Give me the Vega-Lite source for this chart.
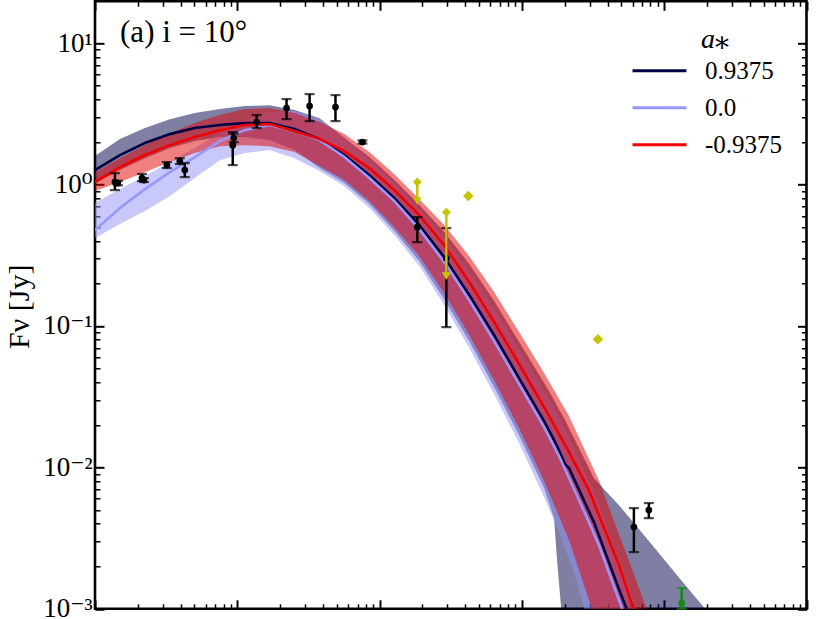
{
  "$schema": "https://vega.github.io/schema/vega-lite/v6.json",
  "width": 711.5,
  "height": 607.5,
  "autosize": {"type": "none"},
  "padding": {"left": 95, "top": 1.3, "right": 24.5, "bottom": 10.2},
  "config": {
    "view": {"stroke": "black", "strokeWidth": 2.6},
    "font": "Liberation Serif, Times New Roman, DejaVu Serif, serif",
    "axis": {
      "domain": false,
      "grid": false,
      "tickColor": "black",
      "labelColor": "black",
      "labelFont": "Liberation Serif, Times New Roman, DejaVu Serif, serif",
      "labelFontSize": 27,
      "labelOverlap": false,
      "labelFlush": false,
      "titleFont": "Liberation Serif, Times New Roman, DejaVu Serif, serif",
      "titleColor": "black",
      "titleFontWeight": "normal"
    }
  },
  "datasets": {
    "model": [
      {"spin": "0.9375", "nu": 10.000, "hi": 0.202, "f": 0.103, "lo": 0.011},
      {"spin": "0.9375", "nu": 10.175, "hi": 0.322, "f": 0.209, "lo": 0.103},
      {"spin": "0.9375", "nu": 10.351, "hi": 0.400, "f": 0.294, "lo": 0.187},
      {"spin": "0.9375", "nu": 10.526, "hi": 0.463, "f": 0.357, "lo": 0.258},
      {"spin": "0.9375", "nu": 10.701, "hi": 0.506, "f": 0.400, "lo": 0.308},
      {"spin": "0.9375", "nu": 10.877, "hi": 0.534, "f": 0.421, "lo": 0.336},
      {"spin": "0.9375", "nu": 11.052, "hi": 0.555, "f": 0.435, "lo": 0.336},
      {"spin": "0.9375", "nu": 11.227, "hi": 0.562, "f": 0.435, "lo": 0.315},
      {"spin": "0.9375", "nu": 11.403, "hi": 0.527, "f": 0.393, "lo": 0.244},
      {"spin": "0.9375", "nu": 11.578, "hi": 0.470, "f": 0.322, "lo": 0.117},
      {"spin": "0.9375", "nu": 11.753, "hi": 0.329, "f": 0.209, "lo": 0.011},
      {"spin": "0.9375", "nu": 11.928, "hi": 0.195, "f": 0.067, "lo": -0.138},
      {"spin": "0.9375", "nu": 12.104, "hi": 0.032, "f": -0.096, "lo": -0.329},
      {"spin": "0.9375", "nu": 12.279, "hi": -0.145, "f": -0.286, "lo": -0.541},
      {"spin": "0.9375", "nu": 12.454, "hi": -0.336, "f": -0.513, "lo": -0.810},
      {"spin": "0.9375", "nu": 12.630, "hi": -0.562, "f": -0.781, "lo": -1.107},
      {"spin": "0.9375", "nu": 12.805, "hi": -0.824, "f": -1.064, "lo": -1.432},
      {"spin": "0.9375", "nu": 12.980, "hi": -1.114, "f": -1.368, "lo": -1.772},
      {"spin": "0.9375", "nu": 13.156, "hi": -1.404, "f": -1.673, "lo": -2.146},
      {"spin": "0.9375", "nu": 13.226, "hi": -1.524, "f": -1.807, "lo": -2.359},
      {"spin": "0.9375", "nu": 13.247, "hi": -1.566, "f": -1.849, "lo": -2.656},
      {"spin": "0.9375", "nu": 13.275, "hi": -1.616, "f": -1.913, "lo": -2.988},
      {"spin": "0.9375", "nu": 13.303, "hi": -1.665, "f": -1.977, "lo": -3.646},
      {"spin": "0.9375", "nu": 13.331, "hi": -1.722, "f": -2.005, "lo": -4.353},
      {"spin": "0.9375", "nu": 13.506, "hi": -2.076, "f": -2.387, "lo": -4.353},
      {"spin": "0.9375", "nu": 13.682, "hi": -2.267, "f": -2.861, "lo": -4.353},
      {"spin": "0.9375", "nu": 13.822, "hi": -2.436, "f": -3.221, "lo": -4.353},
      {"spin": "0.9375", "nu": 13.962, "hi": -2.606, "f": null, "lo": -4.353},
      {"spin": "0.9375", "nu": 14.102, "hi": -2.776, "f": null, "lo": -4.353},
      {"spin": "0.9375", "nu": 14.243, "hi": -2.946, "f": null, "lo": -4.353},
      {"spin": "0.9375", "nu": 14.383, "hi": -3.115, "f": null, "lo": -4.353},
      {"spin": "0.0", "nu": 10.000, "hi": -0.131, "f": -0.322, "lo": -0.378},
      {"spin": "0.0", "nu": 10.175, "hi": -0.032, "f": -0.166, "lo": -0.279},
      {"spin": "0.0", "nu": 10.351, "hi": 0.060, "f": -0.032, "lo": -0.187},
      {"spin": "0.0", "nu": 10.526, "hi": 0.159, "f": 0.088, "lo": -0.081},
      {"spin": "0.0", "nu": 10.701, "hi": 0.258, "f": 0.195, "lo": 0.046},
      {"spin": "0.0", "nu": 10.877, "hi": 0.364, "f": 0.308, "lo": 0.173},
      {"spin": "0.0", "nu": 11.052, "hi": 0.456, "f": 0.385, "lo": 0.223},
      {"spin": "0.0", "nu": 11.227, "hi": 0.513, "f": 0.421, "lo": 0.244},
      {"spin": "0.0", "nu": 11.403, "hi": 0.520, "f": 0.378, "lo": 0.187},
      {"spin": "0.0", "nu": 11.578, "hi": 0.463, "f": 0.315, "lo": 0.096},
      {"spin": "0.0", "nu": 11.753, "hi": 0.322, "f": 0.195, "lo": -0.011},
      {"spin": "0.0", "nu": 11.928, "hi": 0.180, "f": 0.046, "lo": -0.166},
      {"spin": "0.0", "nu": 12.104, "hi": 0.011, "f": -0.117, "lo": -0.357},
      {"spin": "0.0", "nu": 12.279, "hi": -0.173, "f": -0.315, "lo": -0.576},
      {"spin": "0.0", "nu": 12.454, "hi": -0.371, "f": -0.548, "lo": -0.852},
      {"spin": "0.0", "nu": 12.630, "hi": -0.605, "f": -0.817, "lo": -1.156},
      {"spin": "0.0", "nu": 12.805, "hi": -0.873, "f": -1.107, "lo": -1.482},
      {"spin": "0.0", "nu": 12.980, "hi": -1.156, "f": -1.411, "lo": -1.828},
      {"spin": "0.0", "nu": 13.156, "hi": -1.453, "f": -1.715, "lo": -2.210},
      {"spin": "0.0", "nu": 13.261, "hi": -1.637, "f": -1.920, "lo": -2.458},
      {"spin": "0.0", "nu": 13.366, "hi": -1.864, "f": -2.153, "lo": -2.740},
      {"spin": "0.0", "nu": 13.471, "hi": -2.090, "f": -2.387, "lo": -3.115},
      {"spin": "0.0", "nu": 13.541, "hi": -2.260, "f": -2.549, "lo": -3.363},
      {"spin": "0.0", "nu": 13.682, "hi": -2.663, "f": -2.938, "lo": -3.858},
      {"spin": "0.0", "nu": 13.787, "hi": -2.946, "f": -3.221, "lo": -4.211},
      {"spin": "0.0", "nu": 13.857, "hi": -3.151, "f": -3.433, "lo": -4.494},
      {"spin": "-0.9375", "nu": 10.000, "hi": 0.088, "f": 0.018, "lo": -0.046},
      {"spin": "-0.9375", "nu": 10.175, "hi": 0.187, "f": 0.124, "lo": 0.018},
      {"spin": "-0.9375", "nu": 10.351, "hi": 0.279, "f": 0.209, "lo": 0.088},
      {"spin": "-0.9375", "nu": 10.526, "hi": 0.364, "f": 0.279, "lo": 0.159},
      {"spin": "-0.9375", "nu": 10.701, "hi": 0.435, "f": 0.336, "lo": 0.223},
      {"spin": "-0.9375", "nu": 10.877, "hi": 0.492, "f": 0.385, "lo": 0.272},
      {"spin": "-0.9375", "nu": 11.052, "hi": 0.534, "f": 0.421, "lo": 0.279},
      {"spin": "-0.9375", "nu": 11.227, "hi": 0.541, "f": 0.428, "lo": 0.272},
      {"spin": "-0.9375", "nu": 11.403, "hi": 0.506, "f": 0.378, "lo": 0.230},
      {"spin": "-0.9375", "nu": 11.578, "hi": 0.442, "f": 0.322, "lo": 0.131},
      {"spin": "-0.9375", "nu": 11.753, "hi": 0.357, "f": 0.237, "lo": 0.032},
      {"spin": "-0.9375", "nu": 11.928, "hi": 0.230, "f": 0.117, "lo": -0.117},
      {"spin": "-0.9375", "nu": 12.104, "hi": 0.074, "f": -0.039, "lo": -0.301},
      {"spin": "-0.9375", "nu": 12.279, "hi": -0.103, "f": -0.216, "lo": -0.506},
      {"spin": "-0.9375", "nu": 12.454, "hi": -0.286, "f": -0.428, "lo": -0.767},
      {"spin": "-0.9375", "nu": 12.630, "hi": -0.506, "f": -0.690, "lo": -1.064},
      {"spin": "-0.9375", "nu": 12.805, "hi": -0.760, "f": -0.972, "lo": -1.383},
      {"spin": "-0.9375", "nu": 12.980, "hi": -1.043, "f": -1.269, "lo": -1.722},
      {"spin": "-0.9375", "nu": 13.156, "hi": -1.333, "f": -1.574, "lo": -2.097},
      {"spin": "-0.9375", "nu": 13.331, "hi": -1.637, "f": -1.892, "lo": -2.514},
      {"spin": "-0.9375", "nu": 13.471, "hi": -1.941, "f": -2.161, "lo": -2.938},
      {"spin": "-0.9375", "nu": 13.541, "hi": -2.090, "f": -2.337, "lo": -3.172},
      {"spin": "-0.9375", "nu": 13.682, "hi": -2.472, "f": -2.691, "lo": -3.646},
      {"spin": "-0.9375", "nu": 13.787, "hi": -2.755, "f": -3.009, "lo": -4.070},
      {"spin": "-0.9375", "nu": 13.871, "hi": -2.988, "f": -3.257, "lo": -4.353},
      {"spin": "-0.9375", "nu": 13.962, "hi": -3.257, "f": -3.575, "lo": -4.706}
    ],
    "obs": [
      {"nu": 10.140, "f": 0.018, "lo": -0.039, "hi": 0.081},
      {"nu": 10.161, "f": 0.011, "lo": -0.005, "hi": 0.027},
      {"nu": 10.330, "f": 0.046, "lo": 0.025, "hi": 0.075},
      {"nu": 10.344, "f": 0.032, "lo": 0.018, "hi": 0.046},
      {"nu": 10.505, "f": 0.138, "lo": 0.117, "hi": 0.159},
      {"nu": 10.596, "f": 0.166, "lo": 0.145, "hi": 0.187},
      {"nu": 10.631, "f": 0.103, "lo": 0.053, "hi": 0.152},
      {"nu": 10.968, "f": 0.279, "lo": 0.138, "hi": 0.371},
      {"nu": 10.975, "f": 0.329, "lo": 0.300, "hi": 0.360},
      {"nu": 11.136, "f": 0.442, "lo": 0.400, "hi": 0.492},
      {"nu": 11.346, "f": 0.541, "lo": 0.463, "hi": 0.605},
      {"nu": 11.508, "f": 0.555, "lo": 0.449, "hi": 0.640},
      {"nu": 11.690, "f": 0.548, "lo": 0.449, "hi": 0.633},
      {"nu": 11.879, "f": 0.301, "lo": 0.290, "hi": 0.312},
      {"nu": 12.265, "f": -0.301, "lo": -0.407, "hi": -0.230},
      {"nu": 12.469, "f": -0.520, "lo": -1.008, "hi": -0.308},
      {"nu": 13.787, "f": -2.422, "lo": -2.599, "hi": -2.288},
      {"nu": 13.892, "f": -2.302, "lo": -2.359, "hi": -2.252}
    ],
    "green": [
      {"nu": 14.123, "f": -2.960, "lo": -3.0, "hi": -2.854}
    ],
    "ul": [
      {"nu": 12.265, "top": 0.018, "bottom": -0.117},
      {"nu": 12.469, "top": -0.195, "bottom": -0.647}
    ],
    "ypt": [
      {"nu": 12.623, "f": -0.081},
      {"nu": 13.534, "f": -1.093}
    ]
  },
  "layer": [
    {
      "data": {"name": "model"},
      "transform": [{"filter": "datum.spin === '0.9375'"}],
      "mark": {"type": "area", "color": "#000047", "opacity": 0.5, "clip": true},
      "encoding": {
        "x": {"field": "nu", "type": "quantitative", "scale": {"domain": [10, 15], "nice": false, "zero": false}, "axis": null},
        "y": {"field": "lo", "type": "quantitative", "scale": {"domain": [-3, 1.2963], "nice": false, "zero": false}, "axis": null},
        "y2": {"field": "hi"}
      }
    },
    {
      "data": {"name": "model"},
      "transform": [{"filter": "datum.spin === '0.0'"}],
      "mark": {"type": "area", "color": "#9191f5", "opacity": 0.5, "clip": true},
      "encoding": {
        "x": {"field": "nu", "type": "quantitative", "scale": {"domain": [10, 15], "nice": false, "zero": false}, "axis": null},
        "y": {"field": "lo", "type": "quantitative", "scale": {"domain": [-3, 1.2963], "nice": false, "zero": false}, "axis": null},
        "y2": {"field": "hi"}
      }
    },
    {
      "data": {"name": "model"},
      "transform": [{"filter": "datum.spin === '-0.9375'"}],
      "mark": {"type": "area", "color": "#e10000", "opacity": 0.5, "clip": true},
      "encoding": {
        "x": {"field": "nu", "type": "quantitative", "scale": {"domain": [10, 15], "nice": false, "zero": false}, "axis": null},
        "y": {"field": "lo", "type": "quantitative", "scale": {"domain": [-3, 1.2963], "nice": false, "zero": false}, "axis": null},
        "y2": {"field": "hi"}
      }
    },
    {
      "data": {"name": "model"},
      "mark": {"type": "line", "strokeWidth": 2.6, "clip": true},
      "encoding": {
        "x": {"field": "nu", "type": "quantitative", "scale": {"domain": [10, 15], "nice": false, "zero": false}, "axis": null},
        "y": {"field": "f", "type": "quantitative", "scale": {"domain": [-3, 1.2963], "nice": false, "zero": false}, "axis": null},
        "stroke": {
          "field": "spin",
          "type": "nominal",
          "scale": {"domain": ["0.9375", "0.0", "-0.9375"], "range": ["#000047", "#9898fa", "#f20000"]},
          "legend": {
            "orient": "none",
            "legendX": 552,
            "legendY": 25,
            "padding": 0,
            "title": "a⁎",
            "titleFont": "Liberation Serif, Times New Roman, DejaVu Serif, serif",
            "titleFontStyle": "italic",
            "titleFontWeight": "normal",
            "titleFontSize": 28,
            "titleColor": "black",
            "titleAnchor": "middle",
            "titlePadding": 4,
            "labelFont": "Liberation Serif, Times New Roman, DejaVu Serif, serif",
            "labelFontSize": 25,
            "labelColor": "black",
            "labelOffset": 33,
            "rowPadding": 11,
            "symbolType": "M-3,0H3",
            "symbolSize": 324,
            "symbolStrokeWidth": 3
          }
        }
      }
    },
    {
      "data": {"name": "obs"},
      "mark": {"type": "errorbar", "color": "black", "ticks": {"size": 10, "thickness": 2.2}, "rule": {"strokeWidth": 2.5}},
      "encoding": {
        "x": {"field": "nu", "type": "quantitative", "scale": {"domain": [10, 15], "nice": false, "zero": false}, "axis": null},
        "y": {"field": "lo", "type": "quantitative", "scale": {"domain": [-3, 1.2963], "nice": false, "zero": false}, "axis": null},
        "y2": {"field": "hi"}
      }
    },
    {
      "data": {"name": "obs"},
      "mark": {"type": "point", "shape": "circle", "filled": true, "size": 45, "color": "black", "opacity": 1},
      "encoding": {
        "x": {"field": "nu", "type": "quantitative", "scale": {"domain": [10, 15], "nice": false, "zero": false}, "axis": null},
        "y": {"field": "f", "type": "quantitative", "scale": {"domain": [-3, 1.2963], "nice": false, "zero": false}, "axis": null}
      }
    },
    {
      "data": {"name": "green"},
      "mark": {"type": "errorbar", "color": "#138a13", "ticks": {"size": 10, "thickness": 2.2}, "rule": {"strokeWidth": 2.5}},
      "encoding": {
        "x": {"field": "nu", "type": "quantitative", "scale": {"domain": [10, 15], "nice": false, "zero": false}, "axis": null},
        "y": {"field": "lo", "type": "quantitative", "scale": {"domain": [-3, 1.2963], "nice": false, "zero": false}, "axis": null},
        "y2": {"field": "hi"}
      }
    },
    {
      "data": {"name": "green"},
      "mark": {"type": "point", "shape": "circle", "filled": true, "size": 45, "color": "#138a13", "opacity": 1},
      "encoding": {
        "x": {"field": "nu", "type": "quantitative", "scale": {"domain": [10, 15], "nice": false, "zero": false}, "axis": null},
        "y": {"field": "f", "type": "quantitative", "scale": {"domain": [-3, 1.2963], "nice": false, "zero": false}, "axis": null}
      }
    },
    {
      "data": {"name": "ul"},
      "mark": {"type": "rule", "color": "#c4c400", "strokeWidth": 2.5},
      "encoding": {
        "x": {"field": "nu", "type": "quantitative", "scale": {"domain": [10, 15], "nice": false, "zero": false}, "axis": null},
        "y": {"field": "top", "type": "quantitative", "scale": {"domain": [-3, 1.2963], "nice": false, "zero": false}, "axis": null},
        "y2": {"field": "bottom"}
      }
    },
    {
      "data": {"name": "ul"},
      "mark": {"type": "point", "shape": "diamond", "filled": true, "size": 80, "color": "#c4c400", "opacity": 1},
      "encoding": {
        "x": {"field": "nu", "type": "quantitative", "scale": {"domain": [10, 15], "nice": false, "zero": false}, "axis": null},
        "y": {"field": "top", "type": "quantitative", "scale": {"domain": [-3, 1.2963], "nice": false, "zero": false}, "axis": null}
      }
    },
    {
      "data": {"name": "ul"},
      "mark": {"type": "point", "shape": "triangle-down", "filled": true, "size": 80, "color": "#c4c400", "opacity": 1},
      "encoding": {
        "x": {"field": "nu", "type": "quantitative", "scale": {"domain": [10, 15], "nice": false, "zero": false}, "axis": null},
        "y": {"field": "bottom", "type": "quantitative", "scale": {"domain": [-3, 1.2963], "nice": false, "zero": false}, "axis": null}
      }
    },
    {
      "data": {"name": "ypt"},
      "mark": {"type": "point", "shape": "diamond", "filled": true, "size": 110, "color": "#c4c400", "opacity": 1},
      "encoding": {
        "x": {"field": "nu", "type": "quantitative", "scale": {"domain": [10, 15], "nice": false, "zero": false}, "axis": null},
        "y": {"field": "f", "type": "quantitative", "scale": {"domain": [-3, 1.2963], "nice": false, "zero": false}, "axis": null}
      }
    },
    {
      "data": {"values": [{}]},
      "mark": {"type": "text", "text": "(a) i = 10°", "align": "left", "baseline": "alphabetic", "font": "Liberation Serif, Times New Roman, DejaVu Serif, serif", "fontSize": 31, "color": "black"},
      "encoding": {
        "x": {"datum": 10.176, "type": "quantitative", "scale": {"domain": [10, 15], "nice": false, "zero": false}, "axis": null},
        "y": {"datum": 1.0085, "type": "quantitative", "scale": {"domain": [-3, 1.2963], "nice": false, "zero": false}, "axis": null}
      }
    },
    {
      "data": {"name": "obs"},
      "mark": {"type": "point", "opacity": 0},
      "encoding": {
        "x": {
          "field": "nu",
          "type": "quantitative",
          "scale": {"domain": [10, 15], "nice": false, "zero": false},
          "axis": {
            "orient": "bottom",
            "title": null,
            "labels": false,
            "values": [10, 10.30103, 10.47712, 10.60206, 10.69897, 10.77815, 10.8451, 10.90309, 10.95424, 11, 11.30103, 11.47712, 11.60206, 11.69897, 11.77815, 11.8451, 11.90309, 11.95424, 12, 12.30103, 12.47712, 12.60206, 12.69897, 12.77815, 12.8451, 12.90309, 12.95424, 13, 13.30103, 13.47712, 13.60206, 13.69897, 13.77815, 13.8451, 13.90309, 13.95424, 14, 14.30103, 14.47712, 14.60206, 14.69897, 14.77815, 14.8451, 14.90309, 14.95424, 15],
            "tickSize": {"condition": {"test": "datum.value % 1 === 0", "value": -9}, "value": -5},
            "tickWidth": {"condition": {"test": "datum.value % 1 === 0", "value": 2}, "value": 1.5}
          }
        },
        "y": {
          "field": "f",
          "type": "quantitative",
          "scale": {"domain": [-3, 1.2963], "nice": false, "zero": false},
          "axis": {
            "orient": "left",
            "values": [-3, -2.69897, -2.52288, -2.39794, -2.30103, -2.22185, -2.1549, -2.09691, -2.04576, -2, -1.69897, -1.52288, -1.39794, -1.30103, -1.22185, -1.1549, -1.09691, -1.04576, -1, -0.69897, -0.52288, -0.39794, -0.30103, -0.22185, -0.1549, -0.09691, -0.04576, 0, 0.30103, 0.47712, 0.60206, 0.69897, 0.77815, 0.8451, 0.90309, 0.95424, 1],
            "labelExpr": "datum.value === 1 ? '10¹' : datum.value === 0 ? '10⁰' : datum.value === -1 ? '10⁻¹' : datum.value === -2 ? '10⁻²' : datum.value === -3 ? '10⁻³' : ''",
            "labelPadding": 12,
            "tickSize": {"condition": {"test": "datum.value % 1 === 0", "value": -9}, "value": -5},
            "tickWidth": {"condition": {"test": "datum.value % 1 === 0", "value": 2}, "value": 1.5},
            "title": "Fν [Jy]",
            "titleFontSize": 30,
            "titleAngle": 270,
            "titleAlign": "center",
            "titleBaseline": "alphabetic",
            "titleX": -67,
            "titleY": 305
          }
        }
      }
    },
    {
      "data": {"name": "obs"},
      "mark": {"type": "point", "opacity": 0},
      "encoding": {
        "x": {
          "field": "nu",
          "type": "quantitative",
          "scale": {"domain": [10, 15], "nice": false, "zero": false},
          "axis": {
            "orient": "top",
            "title": null,
            "labels": false,
            "values": [10, 10.30103, 10.47712, 10.60206, 10.69897, 10.77815, 10.8451, 10.90309, 10.95424, 11, 11.30103, 11.47712, 11.60206, 11.69897, 11.77815, 11.8451, 11.90309, 11.95424, 12, 12.30103, 12.47712, 12.60206, 12.69897, 12.77815, 12.8451, 12.90309, 12.95424, 13, 13.30103, 13.47712, 13.60206, 13.69897, 13.77815, 13.8451, 13.90309, 13.95424, 14, 14.30103, 14.47712, 14.60206, 14.69897, 14.77815, 14.8451, 14.90309, 14.95424, 15],
            "tickSize": {"condition": {"test": "datum.value % 1 === 0", "value": -9}, "value": -5},
            "tickWidth": {"condition": {"test": "datum.value % 1 === 0", "value": 2}, "value": 1.5}
          }
        },
        "y": {
          "field": "f",
          "type": "quantitative",
          "scale": {"domain": [-3, 1.2963], "nice": false, "zero": false},
          "axis": {
            "orient": "right",
            "title": null,
            "labels": false,
            "values": [-3, -2.69897, -2.52288, -2.39794, -2.30103, -2.22185, -2.1549, -2.09691, -2.04576, -2, -1.69897, -1.52288, -1.39794, -1.30103, -1.22185, -1.1549, -1.09691, -1.04576, -1, -0.69897, -0.52288, -0.39794, -0.30103, -0.22185, -0.1549, -0.09691, -0.04576, 0, 0.30103, 0.47712, 0.60206, 0.69897, 0.77815, 0.8451, 0.90309, 0.95424, 1],
            "tickSize": {"condition": {"test": "datum.value % 1 === 0", "value": -9}, "value": -5},
            "tickWidth": {"condition": {"test": "datum.value % 1 === 0", "value": 2}, "value": 1.5}
          }
        }
      }
    }
  ],
  "resolve": {"axis": {"x": "independent", "y": "independent"}}
}
